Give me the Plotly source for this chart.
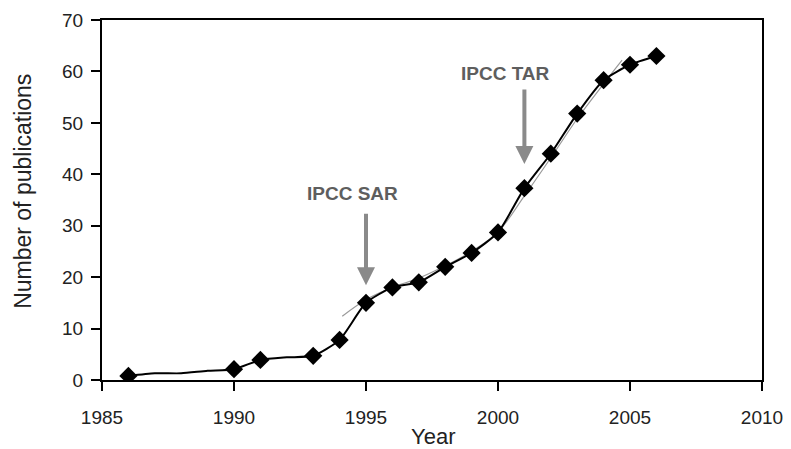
import plotly.graph_objects as go

# Black smoothed line (all years)
line_years = [1986, 1987, 1988, 1989, 1990, 1991, 1992, 1993, 1994, 1995, 1996,
              1997, 1998, 1999, 2000, 2001, 2002, 2003, 2004, 2005, 2006]
line_vals = [0.8, 1.3, 1.3, 1.8, 2.1, 3.9, 4.4, 4.7, 7.8, 15.0, 18.0,
             19.0, 22.0, 24.7, 28.7, 37.3, 44.0, 51.8, 58.3, 61.3, 63.0]

# Marked years
marker_years = [1986, 1990, 1991, 1993, 1994, 1995, 1996, 1997, 1998, 1999,
                2000, 2001, 2002, 2003, 2004, 2005, 2006]
marker_vals = [0.8, 2.1, 3.9, 4.7, 7.8, 15.0, 18.0, 19.0, 22.0, 24.7,
               28.7, 37.3, 44.0, 51.8, 58.3, 61.3, 63.0]

# Thin grey trend line
trend_years = [1994.1, 1995, 1996, 1997, 1998, 1999, 2000, 2001, 2002, 2003, 2004, 2004.7]
trend_vals = [12.4, 15.6, 18.0, 19.8, 22.2, 25.0, 28.8, 35.8, 43.2, 50.8, 57.6, 62.2]

# Annotations: label, arrow x, arrow top, arrow tip, label x, label y
events = ["IPCC SAR", "IPCC TAR"]
event_x = [1995, 2001]
event_top = [32.6, 56.8]
event_tip = [18.4, 42.0]
label_x = [1994.5, 2000.3]
label_y = [36.3, 59.6]

x_ticks = [1985, 1990, 1995, 2000, 2005, 2010]
y_ticks = [0, 10, 20, 30, 40, 50, 60, 70]

FONT = "Liberation Sans, Arial, Helvetica, sans-serif"

fig = go.Figure()
fig.add_trace(go.Scatter(x=trend_years, y=trend_vals, mode="lines",
                         line=dict(color="#9a9a9a", width=1.2, shape="spline"),
                         hoverinfo="skip"))
fig.add_trace(go.Scatter(x=line_years, y=line_vals, mode="lines",
                         line=dict(color="black", width=2, shape="spline", smoothing=0.6)))
fig.add_trace(go.Scatter(x=marker_years, y=marker_vals, mode="markers",
                         marker=dict(symbol="diamond", size=14, color="black")))

annotations = []
for name, ex, top, tip, lx, ly in zip(events, event_x, event_top, event_tip, label_x, label_y):
    annotations.append(dict(x=ex, y=tip, ax=ex, ay=top, xref="x", yref="y",
                            axref="x", ayref="y", text="", showarrow=True,
                            arrowhead=2, arrowsize=0.9, arrowwidth=4,
                            arrowcolor="#8a8a8a"))
    annotations.append(dict(x=lx, y=ly, xref="x", yref="y", text="<b>%s</b>" % name,
                            showarrow=False,
                            font=dict(family=FONT, size=19, color="#5e5e5e")))

# Axis titles
annotations.append(dict(x=0.5015, y=0, xref="paper", yref="paper", text="Year",
                        showarrow=False, yanchor="middle", xanchor="center", yshift=-56,
                        font=dict(family=FONT, size=22, color="#222")))
annotations.append(dict(x=0, y=0.524, xref="paper", yref="paper",
                        text="Number of publications", textangle=-90,
                        showarrow=False, yanchor="middle", xanchor="center", xshift=-78.5,
                        font=dict(family=FONT, size=23, color="#222")))

fig.update_layout(
    width=791, height=449,
    margin=dict(l=94, r=37, t=12, b=77, autoexpand=False),
    paper_bgcolor="white", plot_bgcolor="white",
    showlegend=False,
    font=dict(family=FONT, size=19, color="#222"),
    annotations=annotations,
)
fig.update_xaxes(range=[1985, 2010], tickvals=x_ticks, automargin=False,
                 ticks="outside", ticklen=9, tickwidth=1.5, tickcolor="black",
                 tickfont=dict(family=FONT, size=19, color="#222"),
                 ticklabelstandoff=10,
                 showline=True, linecolor="black", linewidth=2, mirror=True,
                 showgrid=False, zeroline=False)
fig.update_yaxes(range=[0, 70], tickvals=y_ticks, automargin=False,
                 ticks="outside", ticklen=9, tickwidth=1.5, tickcolor="black",
                 tickfont=dict(family=FONT, size=19, color="#222"),
                 ticklabelstandoff=4,
                 showline=True, linecolor="black", linewidth=2, mirror=True,
                 showgrid=False, zeroline=False)

fig.write_html("out.html")
